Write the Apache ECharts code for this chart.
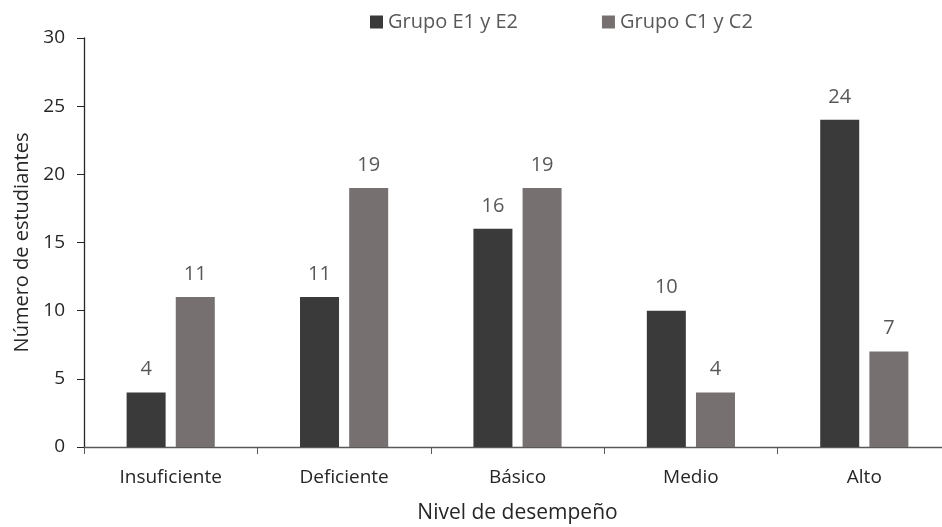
<!DOCTYPE html>
<html>
<head>
<meta charset="utf-8">
<script src="https://cdn.jsdelivr.net/npm/echarts@6/dist/echarts.min.js"></script>
<style>
  html, body { margin: 0; padding: 0; background: #fff; }
  #chart { width: 942px; height: 527px; }
</style>
</head>
<body>
<div id="chart"></div>
<script>
// Performance level categories and student counts per group
const categories = ['Insuficiente', 'Deficiente', 'Básico', 'Medio', 'Alto'];
const grupoE = [4, 11, 16, 10, 24];
const grupoC = [11, 19, 19, 4, 7];
const seriesNames = ['Grupo E1 y E2', 'Grupo C1 y C2'];

const FONT = '"Open Sans", "Noto Sans", sans-serif';
const chart = echarts.init(document.getElementById('chart'), null, { renderer: 'canvas' });

const labelStyle = {
  show: true,
  position: 'top',
  distance: 13,
  color: '#595959',
  fontSize: 20,
  fontFamily: FONT
};

chart.setOption({
  animation: false,
  backgroundColor: '#ffffff',
  legend: {
    top: 7,
    left: 365,
    itemWidth: 13,
    itemHeight: 13,
    itemGap: 84,
    icon: 'rect',
    textStyle: { color: '#595959', fontSize: 20, fontFamily: FONT },
    data: seriesNames
  },
  // plot area runs past the right edge of the canvas
  grid: { left: 84, top: 38, width: 867, height: 409, containLabel: false, outerBoundsMode: 'none' },
  xAxis: {
    type: 'category',
    data: categories,
    name: 'Nivel de desempeño',
    nameLocation: 'middle',
    nameGap: 56,
    nameTextStyle: { color: '#262626', fontSize: 21, fontFamily: FONT },
    axisLine: { lineStyle: { color: '#595959', width: 1.3 } },
    axisTick: { show: true, length: 7, lineStyle: { color: '#595959' } },
    axisLabel: { color: '#262626', fontSize: 19, fontFamily: FONT, margin: 21 }
  },
  yAxis: {
    type: 'value',
    min: 0,
    max: 30,
    interval: 5,
    name: 'Número de estudiantes',
    nameLocation: 'middle',
    nameGap: 52,
    nameRotate: 90,
    nameTextStyle: { color: '#262626', fontSize: 20, fontFamily: FONT },
    axisLine: { show: true, lineStyle: { color: '#262626', width: 1.3 } },
    axisTick: { show: true, length: 7, lineStyle: { color: '#262626' } },
    axisLabel: { color: '#262626', fontSize: 19, fontFamily: FONT, margin: 19 },
    splitLine: { show: false }
  },
  series: [
    {
      name: seriesNames[0],
      type: 'bar',
      data: grupoE,
      barWidth: '22.5%',
      barGap: '26%',
      itemStyle: { color: '#3a3a3a' },
      label: labelStyle
    },
    {
      name: seriesNames[1],
      type: 'bar',
      data: grupoC,
      barWidth: '22.5%',
      itemStyle: { color: '#767170' },
      label: labelStyle
    }
  ]
});
</script>
</body>
</html>
